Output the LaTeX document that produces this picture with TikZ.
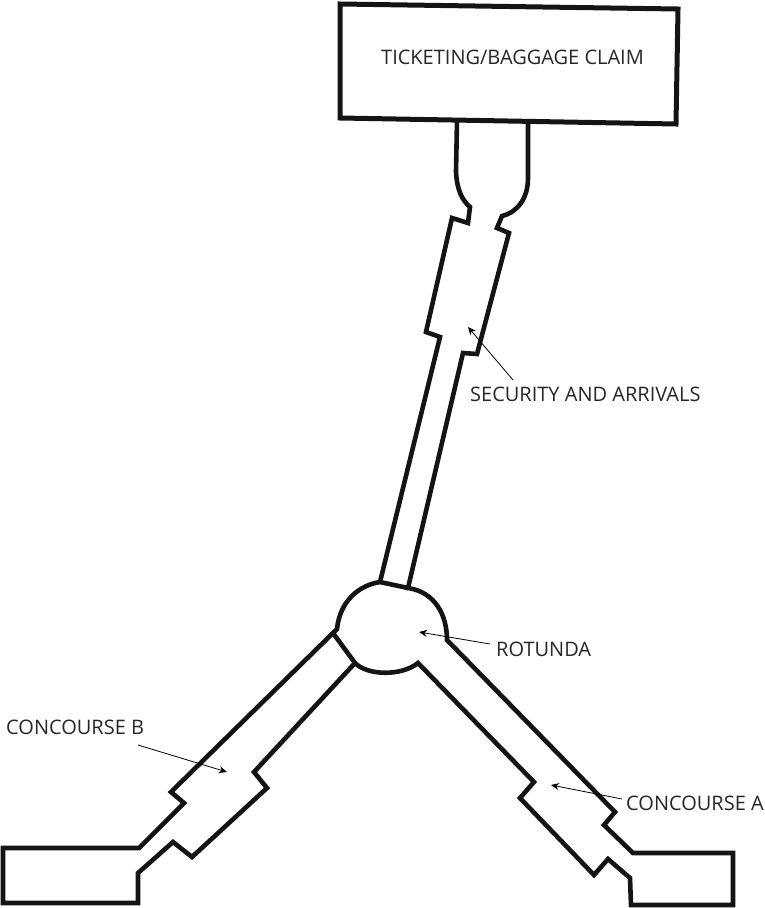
\documentclass[tikz,border=0pt]{standalone}
\usepackage{fontspec}
\setmainfont{Open Sans}
\usetikzlibrary{arrows.meta}
\begin{document}
\begin{tikzpicture}[x=1pt,y=-1pt,
  wall/.style={line width=4.6pt,line join=miter,black!92},
  heavy/.style={line width=5pt,line join=miter,black!92},
  lbl/.style={inner sep=0pt,font=\fontsize{20}{23}\selectfont,text=black!85,anchor=west},
  pointer/.style={line width=0.8pt,-{Stealth[length=8pt,width=7pt]}}]
\useasboundingbox (0,0) rectangle (765,908);
% ticketing hall
\draw[heavy] (340,4) -- (678,9) -- (676,124) -- (340,118) -- cycle;
% outline of neck, security, rotunda and concourses
\draw[wall] (457,120) -- (456,172) .. controls (457,190) and (462,200) .. (470,207)
  -- (468,223) -- (452,218) -- (426,332) -- (440,337) -- (380,582)
  .. controls (360,585) and (340,600) .. (337,629) -- (335,631)
  -- (171,792) -- (184,803) -- (139,848) -- (3,848) -- (3,903) -- (138,903) -- (138,873) -- (173,842)
  -- (192,857) -- (267,788) -- (254,772) -- (355,663)
  .. controls (368,676) and (402,676) .. (418,663)
  -- (534,782) -- (520,798) -- (594,875) -- (608,859) -- (630,878) -- (631,905)
  -- (733,905) -- (733,853) -- (633,853) -- (604,825) -- (615,812) -- (447,640)
  .. controls (447,615) and (435,592) .. (408,588)
  -- (463,353) -- (477,354) -- (509,233) -- (497,228) -- (502,216)
  .. controls (518,212) and (528,198) .. (528,178) -- (528,120);
\draw[wall] (380,582) -- (408,588);
\draw[wall] (333,633) -- (355,663);
% labels
\node[lbl] (ticket) at (381,57) {TICKETING/BAGGAGE CLAIM};
\node[lbl] (security) at (470,394) {SECURITY AND ARRIVALS};
\node[lbl] (rotunda) at (496,649) {ROTUNDA};
\node[lbl] (concb) at (6,727) {CONCOURSE B};
\node[lbl] (conca) at (626,803) {CONCOURSE A};
\coordinate (tipsec) at (468,327);
\coordinate (tiprot) at (419,632);
\coordinate (tipb) at (227,772);
\coordinate (tipa) at (551,785);
\coordinate (tailsec) at (513,380);
\coordinate (tailrot) at (490,644);
\coordinate (tailb) at (138,745);
\coordinate (taila) at (622,799);
\draw[pointer] (tailsec) -- (tipsec);
\draw[pointer] (tailrot) -- (tiprot);
\draw[pointer] (tailb) -- (tipb);
\draw[pointer] (taila) -- (tipa);
\end{tikzpicture}
\end{document}
